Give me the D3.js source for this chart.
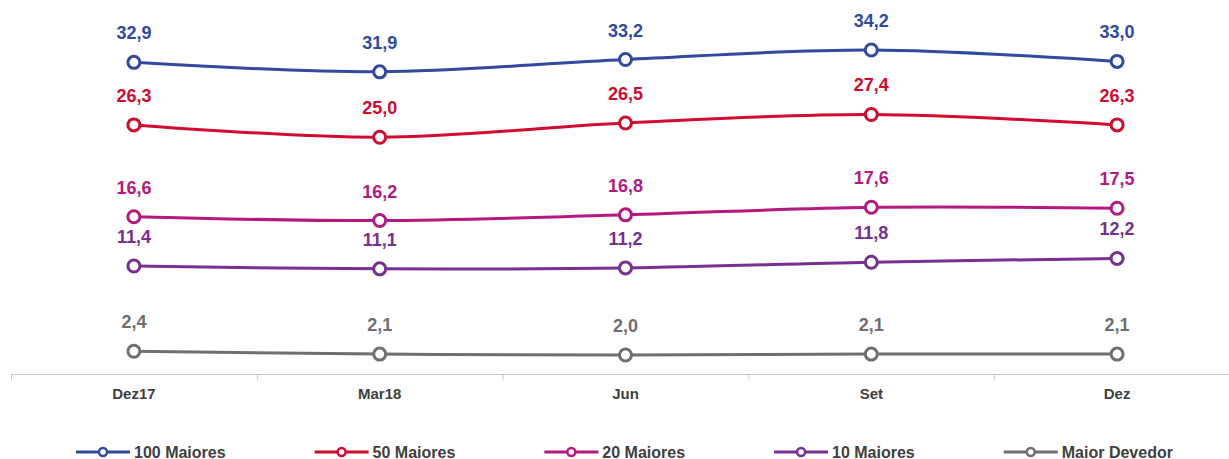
<!DOCTYPE html>
<html>
<head>
<meta charset="utf-8">
<script src="https://cdn.jsdelivr.net/npm/d3@7"></script>
<style>
  body { margin: 0; background: #fff; }
  svg { display: block; font-family: "Liberation Sans", Arial, sans-serif; }
</style>
</head>
<body>
<div id="chart"></div>
<script>
const width = 1229, height = 459;

const categories = ["Dez17", "Mar18", "Jun", "Set", "Dez"];
const seriesNames = ["100 Maiores", "50 Maiores", "20 Maiores", "10 Maiores", "Maior Devedor"];
const seriesColors = ["#2f4a9e", "#d10a2f", "#b5197f", "#76308f", "#6f6f6f"];
const values100 = [32.9, 31.9, 33.2, 34.2, 33.0];
const values50 = [26.3, 25.0, 26.5, 27.4, 26.3];
const values20 = [16.6, 16.2, 16.8, 17.6, 17.5];
const values10 = [11.4, 11.1, 11.2, 11.8, 12.2];
const valuesMaior = [2.4, 2.1, 2.0, 2.1, 2.1];
const allValues = [values100, values50, values20, values10, valuesMaior];

const series = seriesNames.map((name, i) => ({
  name: name,
  color: seriesColors[i],
  values: allValues[i].map((v, j) => ({ cat: categories[j], value: v }))
}));

const svg = d3.select("#chart").append("svg")
  .attr("width", width)
  .attr("height", height);

const x = d3.scaleBand()
  .domain(categories)
  .range([11, 1240]);

const y = d3.scaleLinear()
  .domain([0, 36])
  .range([374, 33]);

const fmt = v => d3.format(".1f")(v).replace(".", ",");

// x axis
const axisG = svg.append("g")
  .attr("transform", `translate(0, 374.5)`);
axisG.append("line")
  .attr("x1", 11).attr("x2", 1240)
  .attr("stroke", "#c8c8c8").attr("stroke-width", 1);
axisG.selectAll(".tick-mark")
  .data(categories.concat(["__end"]))
  .join("line")
  .attr("class", "tick-mark")
  .attr("x1", (d, i) => 11 + i * x.step() + 0.5)
  .attr("x2", (d, i) => 11 + i * x.step() + 0.5)
  .attr("y1", 0).attr("y2", 5)
  .attr("stroke", "#c8c8c8");
axisG.selectAll(".tick-label")
  .data(categories)
  .join("text")
  .attr("class", "tick-label")
  .attr("x", d => x(d) + x.bandwidth() / 2)
  .attr("y", 24)
  .attr("text-anchor", "middle")
  .attr("font-size", 15)
  .attr("font-weight", "bold")
  .attr("fill", "#404040")
  .text(d => d);

const line = d3.line()
  .x(d => x(d.cat) + x.bandwidth() / 2)
  .y(d => y(d.value))
  .curve(d3.curveCatmullRom.alpha(0.5));

const sg = svg.selectAll(".series")
  .data(series)
  .join("g")
  .attr("class", "series");

sg.append("path")
  .attr("d", d => line(d.values))
  .attr("fill", "none")
  .attr("stroke", d => d.color)
  .attr("stroke-width", 3);

sg.each(function(s) {
  const g = d3.select(this);
  g.selectAll("circle")
    .data(s.values)
    .join("circle")
    .attr("cx", d => x(d.cat) + x.bandwidth() / 2)
    .attr("cy", d => y(d.value))
    .attr("r", 6)
    .attr("fill", "#fff")
    .attr("stroke", s.color)
    .attr("stroke-width", 3);
  g.selectAll(".val")
    .data(s.values)
    .join("text")
    .attr("class", "val")
    .attr("x", d => x(d.cat) + x.bandwidth() / 2)
    .attr("y", d => y(d.value) - 23)
    .attr("text-anchor", "middle")
    .attr("font-size", 18)
    .attr("font-weight", "bold")
    .attr("fill", s.color)
    .text(d => fmt(d.value));
});

// legend
const legend = svg.append("g").attr("transform", "translate(0, 452)");
let lx = 76;
series.forEach(s => {
  const item = legend.append("g").attr("transform", `translate(${lx}, 0)`);
  item.append("line")
    .attr("x1", 0).attr("x2", 54)
    .attr("stroke", s.color).attr("stroke-width", 3);
  item.append("circle")
    .attr("cx", 27).attr("cy", 0).attr("r", 4)
    .attr("fill", "#fff").attr("stroke", s.color).attr("stroke-width", 2.5);
  const t = item.append("text")
    .attr("x", 58).attr("y", 5.5)
    .attr("font-size", 16)
    .attr("font-weight", "bold")
    .attr("fill", "#404040")
    .text(s.name);
  lx += 58 + t.node().getComputedTextLength() + 89;
});
</script>
</body>
</html>
